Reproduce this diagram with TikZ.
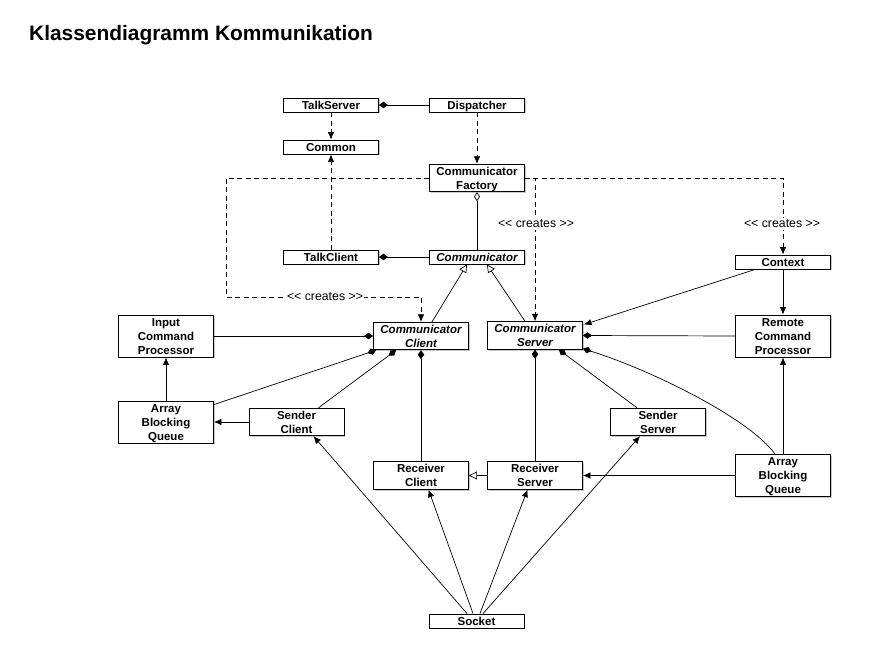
\documentclass[tikz,border=0pt]{standalone}
\usepackage{fontspec}
\setmainfont{Liberation Sans}
\usetikzlibrary{arrows.meta,shadows,positioning,calc}
\begin{document}
\begin{tikzpicture}[x=1pt,y=-1pt,
  box/.style={draw, fill=white, line width=0.9pt, align=center, inner sep=0pt,
    minimum width=95pt, font=\bfseries\fontsize{11.5}{14}\selectfont,
    drop shadow={shadow xshift=1.3pt, shadow yshift=-1.3pt, fill=black!35, opacity=0.6}},
  one/.style={box, minimum height=14pt, text height=8.3pt, text depth=0pt},
  two/.style={box, minimum height=27.5pt, text height=22.3pt, text depth=0pt},
  three/.style={box, minimum height=42pt, text height=36.3pt, text depth=0pt},
  ital/.style={font=\bfseries\itshape\fontsize{11.5}{14}\selectfont},
  conn/.style={line width=0.7pt},
  dsh/.style={conn, dash pattern=on 5pt off 3.5pt},
  arr/.style={-{Latex[length=7.5pt,width=6.5pt]}},
  dia/.style={-{Diamond[length=9pt,width=6.5pt]}},
  odia/.style={-{Diamond[open,length=9pt,width=6pt]}},
  otri/.style={-{Triangle[open,length=8pt,width=8pt]}},
  lbl/.style={fill=white, inner sep=1.5pt, font=\fontsize{12.3}{14}\selectfont}
]
\fill[white] (0,0) rectangle (876,667);
\useasboundingbox (0,0) rectangle (876,667);

\node[anchor=base west, inner sep=0pt, font=\bfseries\fontsize{20.9}{24}\selectfont] (title) at (29,40) {Klassendiagramm Kommunikation};

% nodes
\node[one] (talkserver) at (331,105) {TalkServer};
\node[one] (dispatcher) at (477,105) {Dispatcher};
\node[one] (common) at (331,147) {Common};
\node[two] (factory) at (477,178) {Communicator\\Factory};
\node[one] (talkclient) at (331,257) {TalkClient};
\node[one, ital] (communicator) at (477,257) {Communicator};
\node[one] (context) at (783,262) {Context};
\node[three] (inputcp) at (166,336) {Input\\Command\\Processor};
\node[two, ital] (client) at (421,336) {Communicator\\Client};
\node[two, ital] (server) at (535,335.5) {Communicator\\Server};
\node[three] (remotecp) at (783,336) {Remote\\Command\\Processor};
\node[three] (abql) at (166,422) {Array\\Blocking\\Queue};
\node[two] (senderclient) at (296.5,422) {Sender\\Client};
\node[two] (senderserver) at (658,422) {Sender\\Server};
\node[two] (receiverclient) at (421,475.5) {Receiver\\Client};
\node[two] (receiverserver) at (535,475.5) {Receiver\\Server};
\node[three] (abqr) at (783,475.5) {Array\\Blocking\\Queue};
\node[one] (socket) at (476.5,621) {Socket};

% top area
\draw[conn, dia] (dispatcher.west) -- (talkserver.east);
\draw[dsh, arr] (talkserver.south) -- (common.north);
\draw[dsh, arr] (dispatcher.south) -- (factory.north);
\draw[dsh, arr] (talkclient.north) -- (common.south);
\draw[conn, dia] (communicator.west) -- (talkclient.east);
\draw[conn, odia] (communicator.north) -- (factory.south);

% creates paths
\coordinate (cl1) at (226,178);
\coordinate (cl2) at (226,297);
\draw[dsh, arr] (factory.west) -- (cl1) -- (cl2) -| (client.north);
\node[lbl] (lblA) at (325,297) {<{}< creates >{}>};
\draw[dsh, arr] (factory.east) -| (server.north);
\node[lbl] (lblB) at (536,224) {<{}< creates >{}>};
\draw[dsh, arr] (factory.east) -| (context.north);
\node[lbl] (lblC) at (782,224) {<{}< creates >{}>};

% generalization
\draw[conn, otri] ([xshift=11pt]client.north) -- ([xshift=-10pt]communicator.south);
\draw[conn, otri] ([xshift=-10pt]server.north) -- ([xshift=10pt]communicator.south);

% right side
\draw[conn, arr] ([xshift=20pt]context.south west) -- ([xshift=1pt,yshift=11pt]server.east);
\draw[conn, arr] (context.south) -- (remotecp.north);
\draw[conn, dia] (remotecp.west) -- (server.east);
\draw[conn, dia] ([xshift=-8pt]abqr.north) .. controls +(-25,-35) and +(70,22) .. ([yshift=1pt]server.south east);
\draw[conn, arr] (abqr.north) -- (remotecp.south);
\draw[conn, arr] (abqr.west) -- (receiverserver.east);
\draw[conn, dia] ([xshift=-21pt]senderserver.north) -- ([xshift=24pt]server.south);
\draw[conn, dia] (receiverserver.north) -- (server.south);
\draw[conn, otri] (receiverserver.west) -- (receiverclient.east);

% left side
\draw[conn, dia] (receiverclient.north) -- (client.south);
\draw[conn, dia] ([xshift=22pt]senderclient.north) -- ([xshift=-25pt]client.south);
\draw[conn, dia] ([yshift=-4pt]abql.north east) -- ([xshift=3pt]client.south west);
\draw[conn, dia] (inputcp.east) -- (client.west);
\draw[conn, arr] (senderclient.west) -- (abql.east);
\draw[conn, arr] (abql.north) -- (inputcp.south);

% socket
\draw[conn, arr] ([xshift=-9.5pt]socket.north) -- ([xshift=17pt]senderclient.south);
\draw[conn, arr] ([xshift=-3.5pt]socket.north) -- ([xshift=7.5pt]receiverclient.south);
\draw[conn, arr] ([xshift=3.5pt]socket.north) -- ([xshift=-7.5pt]receiverserver.south);
\draw[conn, arr] ([xshift=6.5pt]socket.north) -- ([xshift=-18pt]senderserver.south);
\end{tikzpicture}
\end{document}
